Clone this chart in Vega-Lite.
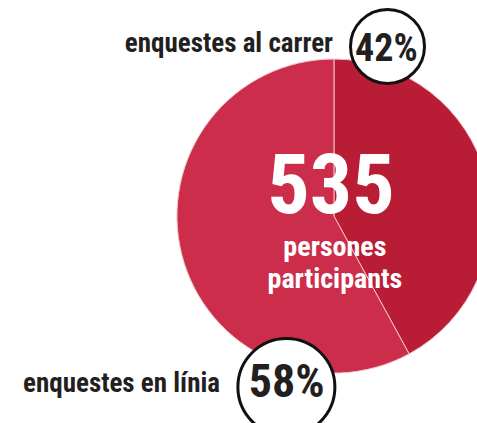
{
  "$schema": "https://vega.github.io/schema/vega-lite/v6.json",
  "width": 477,
  "height": 423,
  "autosize": {"type": "none"},
  "padding": 0,
  "background": "white",
  "view": {"stroke": null},
  "config": {"text": {"font": "Roboto Condensed, DejaVu Sans Condensed", "fontWeight": "bold"}},
  "data": {
    "values": [
      {"category": "enquestes al carrer", "value": 225, "pct": "42%"},
      {"category": "enquestes en línia", "value": 310, "pct": "58%"}
    ]
  },
  "encoding": {
    "x": {"type": "quantitative", "scale": {"domain": [-2.127, 0.911], "nice": false, "zero": false}, "axis": null},
    "y": {"type": "quantitative", "scale": {"domain": [-1.318, 1.376], "nice": false, "zero": false}, "axis": null}
  },
  "layer": [
    {
      "mark": {"type": "arc", "outerRadius": 157, "stroke": "#f2c4cb", "strokeWidth": 1},
      "encoding": {
        "x": {"datum": 0},
        "y": {"datum": 0},
        "theta": {"field": "value", "type": "quantitative", "stack": true},
        "color": {"field": "category", "type": "nominal", "legend": null,
          "scale": {"domain": ["enquestes al carrer", "enquestes en línia"], "range": ["#b91c35", "#cb2d4b"]}}
      }
    },
    {
      "transform": [{"filter": "datum.pct == '42%'"}],
      "mark": {"type": "point", "shape": "circle", "filled": true, "fill": "white", "stroke": "#111111", "strokeWidth": 3, "opacity": 1, "size": 5476},
      "encoding": {"x": {"datum": 0.341}, "y": {"datum": 1.08}}
    },
    {
      "transform": [{"filter": "datum.pct == '58%'"}],
      "mark": {"type": "point", "shape": "circle", "filled": true, "fill": "white", "stroke": "#111111", "strokeWidth": 3, "opacity": 1, "size": 9409},
      "encoding": {"x": {"datum": -0.303}, "y": {"datum": -1.089}}
    },
    {
      "transform": [{"filter": "datum.pct == '42%'"}],
      "mark": {"type": "text", "fontSize": 38, "align": "center", "baseline": "alphabetic", "color": "#231f20", "letterSpacing": -1},
      "encoding": {"x": {"datum": 0.334}, "y": {"datum": 0.987}, "text": {"field": "pct"}}
    },
    {
      "transform": [{"filter": "datum.pct == '58%'"}],
      "mark": {"type": "text", "fontSize": 46, "align": "center", "baseline": "alphabetic", "color": "#231f20", "letterSpacing": -1},
      "encoding": {"x": {"datum": -0.301}, "y": {"datum": -1.151}, "text": {"field": "pct"}}
    },
    {
      "transform": [{"filter": "datum.pct == '42%'"}],
      "mark": {"type": "text", "fontSize": 27, "align": "right", "baseline": "alphabetic", "color": "#231f20", "letterSpacing": -0.5},
      "encoding": {"x": {"datum": -0.006}, "y": {"datum": 1.045}, "text": {"field": "category"}}
    },
    {
      "transform": [{"filter": "datum.pct == '58%'"}],
      "mark": {"type": "text", "fontSize": 27, "align": "right", "baseline": "alphabetic", "color": "#231f20", "letterSpacing": -0.5},
      "encoding": {"x": {"datum": -0.726}, "y": {"datum": -1.121}, "text": {"field": "category"}}
    },
    {
      "transform": [{"aggregate": [{"op": "sum", "field": "value", "as": "total"}]}],
      "mark": {"type": "text", "fontSize": 84, "align": "center", "baseline": "alphabetic", "color": "white", "letterSpacing": 0},
      "encoding": {"x": {"datum": -0.019}, "y": {"datum": 0.019}, "text": {"field": "total", "type": "quantitative"}}
    },
    {
      "transform": [{"aggregate": [{"op": "sum", "field": "value", "as": "total"}]}],
      "mark": {"type": "text", "fontSize": 28, "align": "center", "baseline": "alphabetic", "color": "white", "lineHeight": 32, "letterSpacing": -0.5},
      "encoding": {"x": {"datum": 0.006}, "y": {"datum": -0.253}, "text": {"value": ["persones", "participants"]}}
    }
  ]
}
